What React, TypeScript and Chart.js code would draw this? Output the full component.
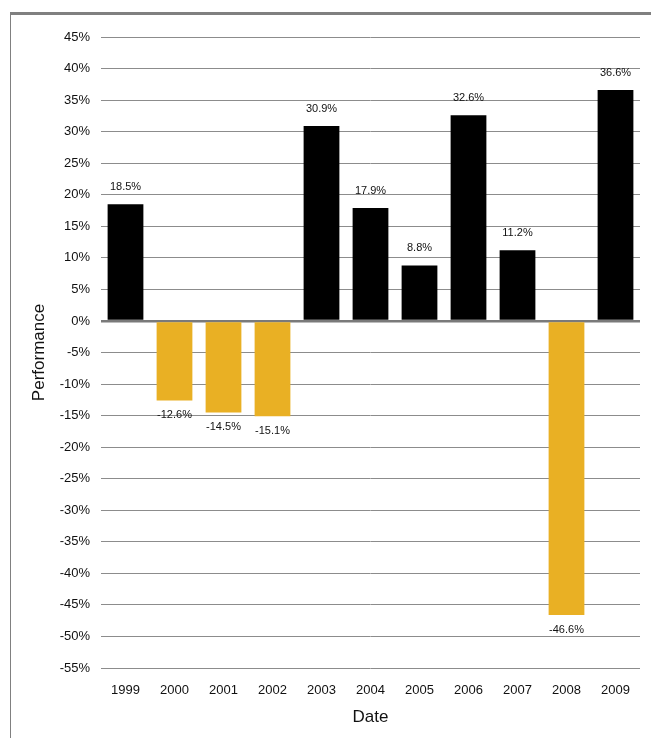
import React, { useEffect, useRef } from "react";
import { Chart, registerables } from "chart.js";

Chart.register(...registerables);

const years = ["1999", "2000", "2001", "2002", "2003", "2004", "2005", "2006", "2007", "2008", "2009"];
const performance = [18.5, -12.6, -14.5, -15.1, 30.9, 17.9, 8.8, 32.6, 11.2, -46.6, 36.6];
const yMin = -55;
const yMax = 45;
const yStep = 5;

const FONT = '"Liberation Sans", Arial, sans-serif';

const labelPlugin = {
  id: "barLabels",
  afterDatasetsDraw(chart: any) {
    const ctx = chart.ctx;
    const meta = chart.getDatasetMeta(0);
    const data = chart.data.datasets[0].data as number[];
    ctx.save();
    ctx.font = `11px ${FONT}`;
    ctx.fillStyle = "#111";
    ctx.textAlign = "center";
    ctx.textBaseline = "middle";
    meta.data.forEach((bar: any, i: number) => {
      const v = data[i];
      const y = v >= 0 ? bar.y - 17.5 : bar.y + 15;
      ctx.fillText(v.toFixed(1) + "%", bar.x, y);
    });
    ctx.restore();
  },
};

export default function App() {
  const ref = useRef<HTMLCanvasElement | null>(null);
  useEffect(() => {
    if (!ref.current) return;
    const chart = new Chart(ref.current, {
      type: "bar",
      data: {
        labels: years,
        datasets: [
          {
            data: performance,
            backgroundColor: performance.map((v) => (v >= 0 ? "#000000" : "#E9B024")),
            categoryPercentage: 1,
            barPercentage: 0.73,
          },
        ],
      },
      options: {
        responsive: false,
        animation: false,
        devicePixelRatio: 1,
        layout: { padding: { top: 22, right: 11, left: 0, bottom: 0 } },
        plugins: { legend: { display: false }, tooltip: { enabled: false } },
        scales: {
          x: {
            grid: { display: false },
            border: { display: false },
            ticks: { color: "#111", font: { family: FONT, size: 13 }, padding: 7, maxRotation: 0 },
            title: {
              display: true,
              text: "Date",
              color: "#111",
              font: { family: FONT, size: 17 },
              padding: { top: 0, bottom: 10 },
            },
            afterFit: (s: any) => {
              s.height = 70;
            },
          },
          y: {
            min: yMin,
            max: yMax,
            ticks: {
              stepSize: yStep,
              color: "#111",
              font: { family: FONT, size: 13 },
              padding: 11,
              callback: (v: any) => v + "%",
            },
            grid: {
              drawTicks: false,
              color: (c: any) => (c.tick && c.tick.value === 0 ? "#7a7a7a" : "#8c8c8c"),
              lineWidth: (c: any) => (c.tick && c.tick.value === 0 ? 2.5 : 1),
            },
            border: { display: false },
            title: {
              display: true,
              text: "Performance",
              color: "#111",
              font: { family: FONT, size: 17 },
              padding: { top: 18, bottom: 0 },
            },
            afterFit: (s: any) => {
              s.width = 90;
            },
          },
        },
      },
      plugins: [labelPlugin],
    });
    return () => chart.destroy();
  }, []);

  return (
    <>
      <style>{`body{overflow:hidden}`}</style>
      <div
        style={{
          position: "absolute",
          left: 10,
          top: 12,
          width: 641,
          height: 726,
          boxSizing: "border-box",
          borderTop: "3px solid #808080",
          borderLeft: "1px solid #808080",
        }}
      >
        <canvas ref={ref} width={640} height={723} style={{ display: "block" }} />
      </div>
    </>
  );
}
